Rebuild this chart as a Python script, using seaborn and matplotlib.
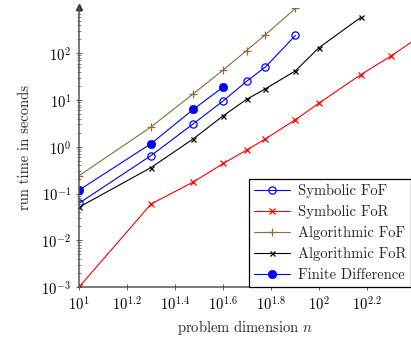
import numpy as np
import pandas as pd
import matplotlib
matplotlib.use("Agg")
import matplotlib.pyplot as plt
import matplotlib.ticker as mticker
import seaborn as sns

# ---- data ----
n_sym_fof = [10, 20, 30, 40, 50, 60, 80]
t_sym_fof = [0.062, 0.65, 3.1, 9.6, 25, 51, 240]

n_sym_for = [10, 20, 30, 40, 50, 60, 80, 100, 150, 200, 250]
t_sym_for = [0.001, 0.06, 0.177, 0.44, 0.85, 1.48, 3.8, 8.5, 35, 87, 190]

n_alg_fof = [10, 20, 30, 40, 50, 60, 80]
t_alg_fof = [0.24, 2.66, 13.6, 44, 114, 250, 910]

n_alg_for = [10, 20, 30, 40, 50, 60, 80, 100, 150]
t_alg_for = [0.051, 0.36, 1.48, 4.6, 10.3, 17.4, 42, 130, 585]

n_fd = [10, 20, 30, 40]
t_fd = [0.118, 1.17, 6.3, 19]

labels = ["Symbolic FoF", "Symbolic FoR", "Algorithmic FoF", "Algorithmic FoR", "Finite Difference"]
x_tick_exps = [1, 1.2, 1.4, 1.6, 1.8, 2, 2.2]
y_tick_exps = [-3, -2, -1, 0, 1, 2]

# ---- style ----
sns.set_theme(style="ticks")
plt.rcParams["font.family"] = ["cmr10", "DejaVu Serif"]
plt.rcParams["mathtext.fontset"] = "cm"
plt.rcParams["axes.formatter.use_mathtext"] = True
plt.rcParams["font.size"] = 10

fig = plt.figure(figsize=(4.11, 3.39), dpi=100)
ax = fig.add_axes([0.192, 0.153, 1.0 - 0.192, 0.976 - 0.153])

axis_col = "#555555"
blue, red, brown, black = "#0000ff", "#ff0000", "#8f6a40", "#000000"
series = [
    (n_sym_fof, t_sym_fof, labels[0], dict(color=blue, marker="o", markersize=5.2,
                                           markerfacecolor="none", markeredgecolor=blue,
                                           markeredgewidth=0.9)),
    (n_sym_for, t_sym_for, labels[1], dict(color=red, marker="x", markersize=4,
                                           markeredgecolor=red, markeredgewidth=0.9)),
    (n_alg_fof, t_alg_fof, labels[2], dict(color=brown, marker="+", markersize=5.5,
                                           markeredgecolor=brown, markeredgewidth=0.9)),
    (n_alg_for, t_alg_for, labels[3], dict(color=black, marker="x", markersize=3.6,
                                           markeredgecolor=black, markeredgewidth=0.9)),
    (n_fd, t_fd, labels[4], dict(color=blue, marker="o", markersize=6,
                                 markerfacecolor=blue, markeredgecolor=blue,
                                 markeredgewidth=0.5)),
]

for nx, ty, lab, kw in series:
    df = pd.DataFrame({"n": nx, "t": ty})
    sns.lineplot(data=df, x="n", y="t", ax=ax, label=lab, linewidth=0.8, clip_on=True, **kw)

ax.set_xscale("log")
ax.set_yscale("log")
ax.set_xlim(10, 10 ** 2.385)
ax.set_ylim(1e-3, 920)

ax.xaxis.set_major_locator(mticker.FixedLocator([10 ** e for e in x_tick_exps]))
ax.xaxis.set_major_formatter(mticker.FixedFormatter(
    [r"$10^{%s}$" % (("%g" % e)) for e in x_tick_exps]))
ax.xaxis.set_minor_locator(mticker.NullLocator())

ax.yaxis.set_major_locator(mticker.FixedLocator([10.0 ** e for e in y_tick_exps]))
ax.yaxis.set_major_formatter(mticker.FixedFormatter(
    [r"$10^{%d}$" % e for e in y_tick_exps]))
ax.yaxis.set_minor_locator(mticker.LogLocator(base=10, subs=np.arange(2, 10), numticks=20))
ax.yaxis.set_minor_formatter(mticker.NullFormatter())

for s in ["top", "right"]:
    ax.spines[s].set_visible(False)
for s in ["left", "bottom"]:
    ax.spines[s].set_color(axis_col)
    ax.spines[s].set_linewidth(1.1)

ax.tick_params(axis="both", which="major", direction="inout", length=5, width=0.7,
               color=axis_col, labelsize=10.5, labelcolor="black", pad=3)
ax.tick_params(axis="both", which="minor", direction="inout", length=3, width=0.5,
               color=axis_col)

# arrow tip on y axis
ax.plot([0], [1.005], marker="^", markersize=4, color="#333333", transform=ax.transAxes,
        clip_on=False)

ax.set_xlabel(r"problem dimension $n$", fontsize=10.5, labelpad=4)
ax.set_ylabel("run time in seconds", fontsize=10.5, labelpad=7)

leg = ax.legend(loc="lower right", bbox_to_anchor=(1.0, 0.0), borderaxespad=0.0,
                fontsize=10.5, frameon=True, fancybox=False, edgecolor="black",
                handlelength=2.5, handletextpad=0.5, labelspacing=0.48, borderpad=0.35)
leg.get_frame().set_linewidth(0.9)
leg.get_frame().set_alpha(1.0)

fig.savefig("out.png", dpi=100)
